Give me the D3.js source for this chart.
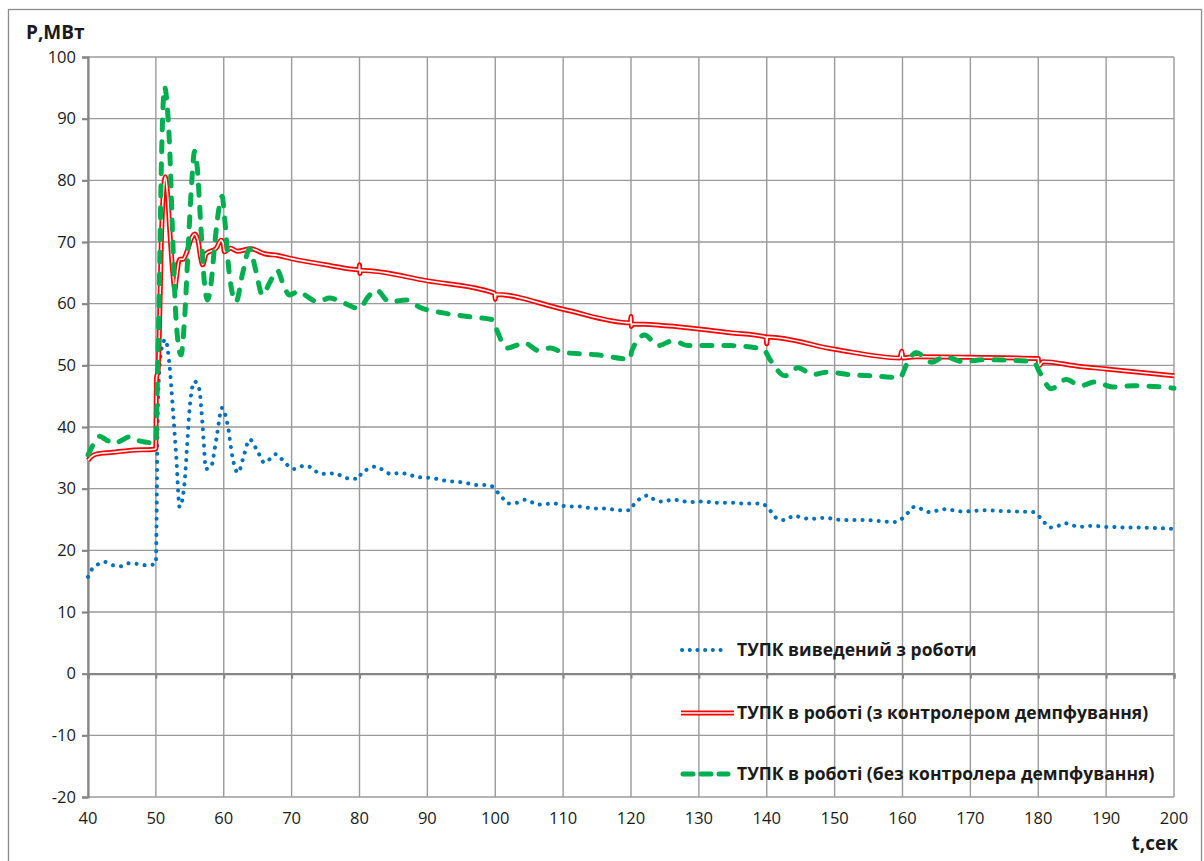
<!DOCTYPE html>
<html>
<head>
<meta charset="utf-8">
<script src="https://cdn.jsdelivr.net/npm/d3@7"></script>
<style>
  body { margin: 0; background: #fff; }
  svg { display: block; }
  text { font-family: "Open Sans", "Liberation Sans", sans-serif; fill: #1a1a1a; }
</style>
</head>
<body>
<div id="chart"></div>
<script>
// time ticks / power ticks
const xTicks = [40, 50, 60, 70, 80, 90, 100, 110, 120, 130, 140, 150, 160, 170, 180, 190, 200];
const yTicks = [-20, -10, 0, 10, 20, 30, 40, 50, 60, 70, 80, 90, 100];

// series 1: ТУПК виведений з роботи
const tBlue = [40, 40.5, 41.3, 42.5, 43.6, 44.8, 46, 47.2, 48.4, 49.7, 50, 50.1, 50.25, 50.5, 50.9, 51.4, 52, 52.5, 53, 53.5,
  54.2, 54.6, 55, 55.7, 56.4, 56.9, 57.4, 58.1, 58.9, 59.75, 60.6, 61.3, 62.1, 63, 63.8, 65, 66, 67.7, 69, 70.4,
  71.8, 73, 74, 75.1, 76.3, 77.5, 78.6, 79.9, 80.3, 81.4, 82.4, 83.5, 84.6, 85.8, 87.1, 88.3, 89.5, 90.9, 92.1, 93.3,
  94.6, 95.8, 97.1, 98.3, 99.5, 100.2, 101, 101.9, 103.1, 104.4, 105.4, 106.2, 107.4, 108.7, 110, 111.2, 112.5, 113.7, 114.9, 116.2,
  117.5, 118.7, 119.9, 120.4, 121.4, 122.5, 123.6, 124.8, 126, 127.3, 128.5, 129.7, 131, 132.3, 134, 135.3, 136.5, 137.7, 139, 140,
  140.7, 141.6, 142.7, 144, 145.2, 146.4, 147.6, 148.8, 150, 152.2, 154.5, 157, 159, 160.1, 161, 161.8, 163, 164, 165.3, 166.5,
  167.8, 169, 170.5, 171.9, 174, 176.5, 179.3, 180.7, 181.7, 182.8, 183.9, 185, 185.9, 187, 188.3, 189.6, 191, 193, 195, 197.5, 200];
const pBlue = [15.7, 16.8, 17.6, 18.1, 17.6, 17.4, 17.9, 17.8, 17.6, 17.7, 17.8, 25, 40, 49, 53, 54.2, 50.1, 43, 35.3, 27,
  30.7, 37, 43.4, 47.4, 46.1, 40, 33.2, 33.5, 38, 43.1, 40.2, 35, 32.6, 35.5, 38, 36, 34.2, 35.6, 34.2, 33.2,
  33.7, 33.4, 32.5, 32.4, 32.5, 32, 31.6, 31.6, 32.6, 33.2, 33.6, 33, 32.4, 32.5, 32.4, 31.9, 31.8, 31.7, 31.4, 31.2,
  31.1, 30.9, 30.6, 30.6, 30.4, 29.6, 28.6, 27.6, 27.7, 28.2, 27.8, 27.4, 27.5, 27.6, 27.2, 27.1, 27.1, 26.9, 26.8, 26.8,
  26.6, 26.5, 26.5, 27.4, 28.4, 28.9, 28.1, 27.9, 28.2, 28.1, 27.8, 27.9, 27.9, 27.7, 27.7, 27.7, 27.6, 27.6, 27.6, 27.1,
  26.2, 25.1, 24.9, 25.6, 25.3, 25.1, 25.2, 25.3, 25, 24.9, 24.9, 24.7, 24.6, 25.3, 26.3, 27.1, 26.6, 26.2, 26.5, 26.7,
  26.4, 26.3, 26.4, 26.5, 26.4, 26.3, 26.2, 24.8, 23.7, 23.9, 24.4, 24.1, 23.8, 23.9, 24, 23.8, 23.8, 23.7, 23.7, 23.6, 23.5];

// series 2: ТУПК в роботі (з контролером демпфування)
const tRed = [40, 40.5, 41.2, 43.7, 46.1, 49.8, 50, 50.05, 50.1, 50.3, 50.5, 50.8, 51.1, 51.4, 51.7, 52.1, 52.5, 52.8, 53, 53.5,
  54, 54.6, 55.2, 55.7, 56.2, 56.6, 56.9, 57.4, 58.9, 59.6, 59.9, 60.1, 61, 62, 64, 66, 68, 70, 75.6, 79.9,
  80, 80.05, 80.2, 90, 99.9, 100, 100.1, 110, 119.9, 120, 120.05, 120.2, 130, 134.6, 139.9, 140, 140.1, 150, 159.6, 159.9,
  160.05, 162, 170, 180, 180.1, 180.7, 185.6, 190, 200];
const pRed = [34.6, 35.2, 35.6, 35.9, 36.2, 36.4, 36.5, 44, 48, 49, 55, 70, 78, 80.6, 78, 71, 65, 62.3, 64, 67.2,
  67.2, 68.5, 70.5, 71.3, 70.3, 67.5, 66.3, 68.1, 69, 70.3, 69.8, 68.4, 69, 68.5, 68.9, 68.1, 67.8, 67.3, 66.2, 65.5,
  66.3, 64.9, 65.4, 63.7, 61.7, 60.7, 61.5, 59.1, 56.9, 57.9, 56.3, 56.7, 55.9, 55.3, 54.6, 53.5, 54.6, 52.6, 51.2, 52.3,
  51.2, 51.4, 51.3, 51.1, 49.9, 50.6, 49.9, 49.4, 48.3];

// series 3: ТУПК в роботі (без контролера демпфування)
const tGreen = [40, 40.5, 41.7, 42.7, 43.9, 44.9, 46.1, 47.4, 48.8, 49.8, 50, 50.2, 50.5, 50.8, 51.1, 51.3, 51.6, 52, 52.5, 53,
  53.7, 54.2, 54.8, 55.3, 55.7, 56.1, 56.6, 57.1, 57.6, 58.1, 58.7, 59.3, 59.75, 60.2, 60.8, 61.8, 62.8, 63.8, 64.7, 65.7,
  66.8, 67.9, 68.8, 69.7, 71, 72.5, 73.8, 75.6, 77.5, 80, 81.2, 82.5, 84.4, 86.9, 88.9, 92.3, 96.7, 99.6, 100.2, 101.7,
  103, 104.2, 106.4, 108.1, 110, 115, 119.9, 120.1, 122, 124, 126.2, 128.4, 131.6, 134.6, 139.5, 140.5, 142.7, 144.6, 146.8, 148.8,
  152.2, 156.7, 159.6, 160.6, 162, 164.3, 166.2, 168.9, 171.9, 179.3, 180.2, 181.9, 184.1, 186.3, 188.3, 191, 194, 200];
const pGreen = [35.5, 36.6, 38.5, 37.9, 37.3, 37.8, 38.4, 37.8, 37.5, 37.3, 37.5, 46, 62, 82, 93, 95.1, 93, 86, 70, 57,
  51.7, 57, 70, 80, 84.7, 82, 73, 64, 60.6, 63, 70, 75.5, 77.4, 73, 65, 60.3, 65, 68.9, 65.5, 61.4,
  63.5, 65.4, 63, 61.4, 62, 61, 60.3, 60.9, 60.2, 59.2, 61, 62.2, 60.3, 60.6, 59.4, 58.5, 57.8, 57.4, 55.8, 52.8,
  53.2, 53.7, 52.4, 52.8, 52.1, 51.7, 51, 52.3, 54.9, 53.2, 54, 53.2, 53.2, 53.2, 52.6, 50.9, 48.3, 49.6, 48.5, 48.9,
  48.5, 48.2, 48, 50.1, 52.1, 50.5, 51.4, 50.6, 50.9, 50.6, 48.9, 46.2, 47.7, 46.7, 47.3, 46.5, 46.7, 46.3];

const legendLabels = [
  "ТУПК виведений з роботи",
  "ТУПК в роботі (з контролером демпфування)",
  "ТУПК в роботі (без контролера демпфування)"
];

const W = 1204, H = 861;
const blue = "#0070C0", red = "#FF0000", green = "#00B050";
const gridColor = "#9a9a9a", axisColor = "#868686";

const svg = d3.select("#chart").append("svg")
  .attr("width", W).attr("height", H);

svg.append("rect").attr("width", W).attr("height", H).attr("fill", "#fff");
// outer chart frame
svg.append("rect")
  .attr("x", 8.5).attr("y", 9.5).attr("width", 1193).attr("height", 880)
  .attr("fill", "none").attr("stroke", "#8c8c8c").attr("stroke-width", 1.3);

const x = d3.scaleLinear().domain([40, 200]).range([88, 1174]);
const y = d3.scaleLinear().domain([-20, 100]).range([797, 57]);

// grid
const grid = svg.append("g");
grid.selectAll(".gx").data(xTicks).join("line")
  .attr("x1", d => x(d)).attr("x2", d => x(d))
  .attr("y1", y(100)).attr("y2", y(-20))
  .attr("stroke", gridColor).attr("stroke-width", 1.4);
grid.selectAll(".gy").data(yTicks).join("line")
  .attr("x1", x(40)).attr("x2", x(200))
  .attr("y1", d => y(d)).attr("y2", d => y(d))
  .attr("stroke", gridColor).attr("stroke-width", 1.4);

// y axis
const yAxis = d3.axisLeft(y).tickValues(yTicks).tickSize(6).tickPadding(6)
  .tickFormat(d => String(d));
const gy = svg.append("g").attr("transform", `translate(${x(40)},0)`).call(yAxis);
gy.select(".domain").attr("stroke", axisColor).attr("stroke-width", 2.2);
gy.selectAll(".tick line").attr("stroke", axisColor).attr("stroke-width", 2.2);
gy.selectAll(".tick text").style("font-size", "16.5px").attr("fill", "#1a1a1a");

// x axis line sits on zero, labels at the bottom
const xAxis = d3.axisBottom(x).tickValues(xTicks).tickSize(5).tickFormat("");
const gx = svg.append("g").attr("transform", `translate(0,${y(0)})`).call(xAxis);
gx.select(".domain").attr("stroke", axisColor).attr("stroke-width", 2.2);
gx.selectAll(".tick line").attr("stroke", axisColor).attr("stroke-width", 2);

svg.append("g").selectAll("text").data(xTicks).join("text")
  .attr("x", d => x(d)).attr("y", 824)
  .attr("text-anchor", "middle")
  .style("font-size", "16.5px")
  .text(d => d);

svg.append("text").attr("x", 26).attr("y", 39)
  .style("font-size", "19px").style("font-weight", "bold").text("P,МВт");
svg.append("text").attr("x", 1178).attr("y", 850).attr("text-anchor", "end")
  .style("font-size", "19px").style("font-weight", "bold").text("t,сек");

// lines
const line = d3.line()
  .x(d => x(d[0])).y(d => y(d[1]))
  .curve(d3.curveMonotoneX);

const blueData = d3.zip(tBlue, pBlue);
const redData = d3.zip(tRed, pRed);
const greenData = d3.zip(tGreen, pGreen);

svg.append("path").datum(blueData).attr("d", line)
  .attr("fill", "none").attr("stroke", blue).attr("stroke-width", 4)
  .attr("stroke-linecap", "round").attr("stroke-dasharray", "0.1 8");

svg.append("path").datum(redData).attr("d", line)
  .attr("fill", "none").attr("stroke", red).attr("stroke-width", 5)
  .attr("stroke-linejoin", "round");
svg.append("path").datum(redData).attr("d", line)
  .attr("fill", "none").attr("stroke", "#fff").attr("stroke-width", 1.6)
  .attr("stroke-linejoin", "round");

svg.append("path").datum(greenData).attr("d", line)
  .attr("fill", "none").attr("stroke", green).attr("stroke-width", 5)
  .attr("stroke-linecap", "round").attr("stroke-dasharray", "10 12");

// legend
const legY = [650, 713, 774];
const leg = svg.append("g");
leg.append("line").attr("x1", 682).attr("x2", 728).attr("y1", legY[0]).attr("y2", legY[0])
  .attr("stroke", blue).attr("stroke-width", 4).attr("stroke-linecap", "round").attr("stroke-dasharray", "0.1 7.6");
leg.append("line").attr("x1", 681).attr("x2", 734).attr("y1", legY[1]).attr("y2", legY[1])
  .attr("stroke", red).attr("stroke-width", 5);
leg.append("line").attr("x1", 681).attr("x2", 734).attr("y1", legY[1]).attr("y2", legY[1])
  .attr("stroke", "#fff").attr("stroke-width", 1.6);
leg.append("line").attr("x1", 683).attr("x2", 728).attr("y1", legY[2]).attr("y2", legY[2])
  .attr("stroke", green).attr("stroke-width", 5).attr("stroke-linecap", "round").attr("stroke-dasharray", "10 8");

leg.selectAll("text").data(legendLabels).join("text")
  .attr("x", 737).attr("y", (d, i) => legY[i])
  .attr("dy", "0.35em")
  .style("font-size", "17.5px").style("font-weight", "bold")
  .text(d => d);
</script>
</body>
</html>
